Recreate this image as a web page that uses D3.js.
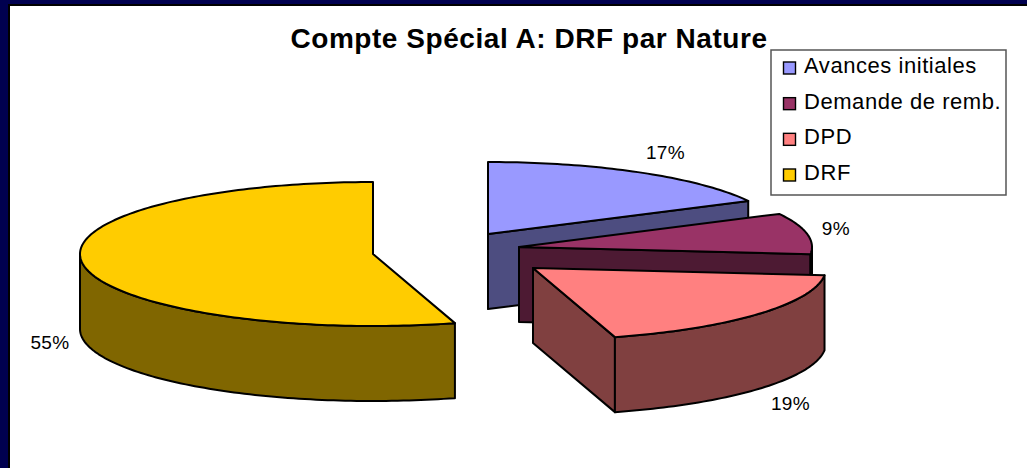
<!DOCTYPE html>
<html>
<head>
<meta charset="utf-8">
<title>Compte Spécial A: DRF par Nature</title>
<style>
html, body { margin: 0; padding: 0; background: #fff; }
svg { display: block; }
text { font-family: "Liberation Sans", Arial, sans-serif; fill: #000; }
</style>
</head>
<body>
<svg id="chart" width="1027" height="468"></svg>
<script src="https://cdnjs.cloudflare.com/ajax/libs/d3/7.8.5/d3.min.js"></script>
<script>
var categories = ['Avances initiales', 'Demande de remb.', 'DPD', 'DRF'];
var values = [17.4, 9.2, 18.89, 54.51];
var topColors = ['#9999ff', '#993366', '#ff8080', '#ffcc00'];
var wallColors = ['#4d4d80', '#4d1a33', '#804040', '#806600'];

var titleText = 'Compte Spécial A: DRF par Nature';

// centre of each exploded slice, and where its % label goes
var apexes = [[488, 234], [519, 247], [533, 268], [373, 254]];
var labelPos = [[665.5, 159], [836, 235], [790.5, 410], [50, 349]];

var rx = 293, ry = 72, depth = 75;

var svg = d3.select('#chart');

// frame
svg.append('rect').attr('width', 1027).attr('height', 468).attr('fill', '#fff');
svg.append('rect').attr('width', 1027).attr('height', 4).attr('fill', '#000050');
svg.append('rect').attr('width', 8).attr('height', 468).attr('fill', '#000050');
svg.append('rect').attr('x', 8).attr('y', 4).attr('width', 1019).attr('height', 2).attr('fill', '#000');
svg.append('rect').attr('x', 8).attr('y', 4).attr('width', 2).attr('height', 464).attr('fill', '#000');

svg.append('text')
	.attr('x', 529).attr('y', 47.5)
	.attr('text-anchor', 'middle')
	.attr('font-size', 28)
	.attr('font-weight', 'bold')
	.attr('letter-spacing', 0.55)
	.text(titleText);

var pie = d3.pie().sort(null);
var arcs = pie(values);
var line = d3.line();
var fmt = d3.format('.0%');
var total = d3.sum(values);

function point(i, a, z) {
	return [apexes[i][0] + rx * Math.sin(a), apexes[i][1] - ry * Math.cos(a) + (z || 0)];
}

function rimAngles(a0, a1) {
	var n = Math.ceil((a1 - a0) / 0.02);
	return d3.range(n + 1).map(function(k) { return a0 + (a1 - a0) * k / n; });
}

var slices = svg.selectAll('g.slice')
	.data(arcs)
	.enter()
	.append('g')
	.attr('class', 'slice')
	.attr('stroke', '#000')
	.attr('stroke-width', 2)
	.attr('stroke-linejoin', 'round');

// cut face that looks toward the viewer
slices.filter(function(d) { return d.endAngle < Math.PI; })
	.append('path')
	.attr('fill', function(d) { return wallColors[d.index]; })
	.attr('d', function(d) {
		var i = d.index, a = apexes[i], e = d.endAngle;
		return line([a, point(i, e), point(i, e, depth), [a[0], a[1] + depth]]) + 'Z';
	});

// outer rim, only the part on the front half of the ellipse
slices.append('path')
	.attr('fill', function(d) { return wallColors[d.index]; })
	.attr('d', function(d) {
		var i = d.index;
		var a0 = Math.max(d.startAngle, Math.PI / 2);
		var a1 = Math.min(d.endAngle, 3 * Math.PI / 2);
		if (a1 <= a0) return null;
		var rim = rimAngles(a0, a1);
		var upper = rim.map(function(a) { return point(i, a); });
		var lower = rim.slice().reverse().map(function(a) { return point(i, a, depth); });
		return line(upper.concat(lower)) + 'Z';
	});

// top face last
slices.append('path')
	.attr('fill', function(d) { return topColors[d.index]; })
	.attr('d', function(d) {
		var i = d.index;
		var rim = rimAngles(d.startAngle, d.endAngle).map(function(a) { return point(i, a); });
		return line([apexes[i]].concat(rim)) + 'Z';
	});

svg.selectAll('text.pct')
	.data(arcs)
	.enter()
	.append('text')
	.attr('class', 'pct')
	.attr('x', function(d) { return labelPos[d.index][0]; })
	.attr('y', function(d) { return labelPos[d.index][1]; })
	.attr('text-anchor', 'middle')
	.attr('font-size', 19)
	.attr('letter-spacing', 0.4)
	.text(function(d) { return fmt(d.value / total); });

// legend
var legend = svg.append('g');
legend.append('rect')
	.attr('x', 771).attr('y', 50)
	.attr('width', 235).attr('height', 145)
	.attr('fill', '#fff')
	.attr('stroke', '#555')
	.attr('stroke-width', 1.5);

var rowY = d3.scalePoint().domain(categories).range([66, 173]);

var rows = legend.selectAll('g.row')
	.data(categories)
	.enter()
	.append('g')
	.attr('class', 'row')
	.attr('transform', function(d) { return 'translate(0,' + rowY(d) + ')'; });

rows.append('rect')
	.attr('x', 783.5).attr('y', -4)
	.attr('width', 12).attr('height', 12)
	.attr('fill', function(d, i) { return topColors[i]; })
	.attr('stroke', '#000')
	.attr('stroke-width', 1.4);

rows.append('text')
	.attr('x', 804).attr('y', 0)
	.attr('dy', '0.32em')
	.attr('font-size', 22)
	.attr('letter-spacing', 0.55)
	.text(function(d) { return d; });
</script>
</body>
</html>
